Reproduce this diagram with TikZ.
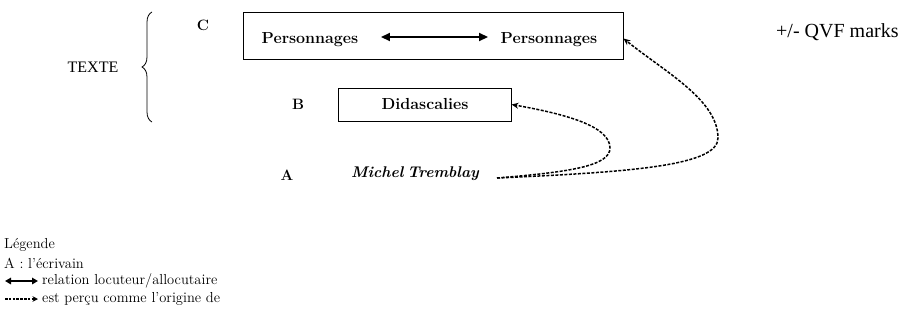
\documentclass[tikz,border=0pt]{standalone}
\usepackage{fontspec}
\newfontfamily\timesfont{Liberation Serif}[Ligatures=TeX]
\usetikzlibrary{arrows.meta,decorations.pathreplacing}
\begin{document}
\begin{tikzpicture}[x=1pt,y=-1pt,
  lab/.style={font=\fontsize{15}{17}\selectfont\bfseries, inner sep=0pt},
  boxtext/.style={font=\fontsize{16}{18}\selectfont\bfseries, inner sep=0pt},
  framebox/.style={draw, line width=1pt},
  leg/.style={font=\fontsize{14.5}{16}\selectfont, inner sep=0pt, anchor=west},
  relarrow/.style={line width=2pt, {Triangle[length=9pt,width=8pt]}-{Triangle[length=9pt,width=8pt]}},
  origarrow/.style={line width=1.5pt, dash pattern=on 3pt off 1.5pt, -{Stealth[length=7pt,width=6pt]}}]
\useasboundingbox (0,0) rectangle (904,322);
% brace and TEXTE
\coordinate (bb) at (152,122);
\coordinate (bt) at (152,12);
\draw[line width=0.8pt, decorate, decoration={brace, amplitude=10pt}] (bb) -- (bt);
\node[inner sep=0pt] (texte) at (93,67) {\fontspec{Liberation Serif}\fontsize{16}{18}\selectfont TEXTE};
% level C
\node[lab] (c) at (203,25) {C};
\node[framebox, minimum width=380pt, minimum height=47pt, inner sep=0pt] (boxc) at (433,35.5) {};
\node[boxtext] (p1) at (310,40) {Personnages};
\node[boxtext] (p2) at (549,40) {Personnages};
\draw[relarrow] ([xshift=22.5pt,yshift=3pt]p1.east) -- ([xshift=-12.5pt,yshift=3pt]p2.west);
% level B
\node[lab] (b) at (298,104) {B};
\node[framebox, minimum width=173pt, minimum height=33pt, inner sep=0pt] (boxb) at (424.5,104.5) {};
\node[boxtext] (did) at (425,104) {Didascalies};
% level A
\node[lab] (a) at (287,175) {A};
\node[font=\fontsize{15.5}{17}\selectfont\bfseries\itshape, inner sep=0pt] (mt) at (415,174) {Michel\hspace{4pt}Tremblay};
\coordinate (src) at (497,178);
\draw[origarrow] (src) .. controls (570,172) and (610,166) .. (610,148)
   .. controls (610,126) and (565,114) .. (boxb.east);
\draw[origarrow] (src) .. controls (630,172) and (718,166) .. (718,138)
   .. controls (718,100) and (665,72) .. ([yshift=-3pt]boxc.east);
% note
\node[inner sep=0pt, anchor=west] (note) at (776,32) {\fontspec{Liberation Serif}\fontsize{20}{22}\selectfont +/- QVF marks};
% legend
\node[leg] (l1) at (4,245) {Légende};
\node[leg] (l2) at (4,263) {A : l’écrivain};
\coordinate (r1) at (5,281);
\coordinate (r2) at (38,281);
\draw[line width=1.6pt, {Triangle[length=6pt,width=6.5pt]}-{Triangle[length=6pt,width=6.5pt]}] (r1) -- (r2);
\node[leg] (l3) at (42,281) {relation locuteur/allocutaire};
\coordinate (o1) at (5,299);
\coordinate (o2) at (38,299);
\draw[line width=1.3pt, dash pattern=on 2.5pt off 1.3pt, -{Stealth[length=5.5pt,width=5.5pt]}] (o1) -- (o2);
\node[leg] (l4) at (42,299) {est perçu comme l’origine de};
\end{tikzpicture}
\end{document}
